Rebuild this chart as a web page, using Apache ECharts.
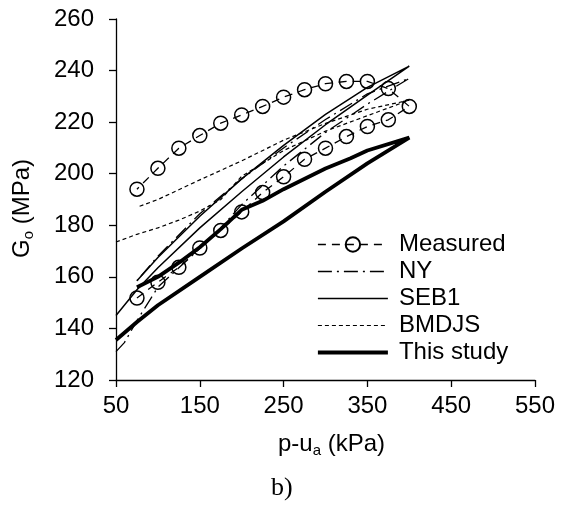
<!DOCTYPE html>
<html><head><meta charset="utf-8">
<script src="https://cdn.jsdelivr.net/npm/echarts@6/dist/echarts.min.js"></script>
<style>html,body{margin:0;padding:0;background:#fff}#c{width:561px;height:509px}</style>
</head><body><div id="c"></div>
<script>
// Axis ticks
const xTicks = [50, 150, 250, 350, 450, 550];
const yTicks = [120, 140, 160, 180, 200, 220, 240, 260];

// Measured: loading branch then unloading branch
const measuredX = [75,100,125,150,175,200,225,250,275,300,325,350,375,400,375,350,325,300,275,250,225,200,175,150,125,100,75];
const measuredY = [151.8,157.9,163.7,171.2,178,185.2,192.7,198.8,205.6,209.9,214.4,218.3,220.9,226.1,233,235.8,235.8,234.9,232.6,229.7,226.1,222.8,219.6,214.8,209.9,202.1,194];

// NY model
const nyX = [50,60,75,100,125,150,175,200,250,300,350,400,350,300,250,200,150,100,75];
const nyY = [131,134.5,143,156,163.5,171,179,188,203,216,227,237,231,221,210,198,184.5,168,158.5];

// SEB1 model
const sebX = [50,75,100,150,200,250,300,350,400,350,300,250,200,150,100,75];
const sebY = [145,155,163.5,179,193,206.5,219,230.5,241.7,233.5,223,211,198,183.5,167.5,158.5];

// BMDJS model
const bmX = [50,75,100,125,150,175,200,250,300,350,400,350,300,250,200,150,100,75];
const bmY = [173.5,176.5,179,182,185.5,190,199,209,216.5,222.5,228.5,225,219.5,213,205,197.6,190,187];

// This study
const tsX = [50,75,100,150,200,250,300,350,400,350,330,300,250,225,200,175,150,125,100,75];
const tsY = [135.5,142.5,149,160,171,181.5,193,204,214,209,206,202,194,189.5,186,178.5,171.5,165.5,160,156];

const legendNames = ['Measured', 'NY', 'SEB1', 'BMDJS', 'This study'];

const zip = (xs, ys) => xs.map((x, i) => [x, ys[i]]);
const FONT = 'Liberation Sans, Arial, sans-serif';

const chart = echarts.init(document.getElementById('c'));
chart.setOption({
  animation: false,
  backgroundColor: '#fff',
  grid: { left: 116, right: 26, top: 19, bottom: 129 },
  title: {
    text: 'b)', left: 266, top: 470,
    textStyle: { fontFamily: 'Liberation Serif, Times New Roman, serif', fontSize: 26, fontWeight: 'normal', color: '#000' }
  },
  legend: {
    orient: 'vertical', left: 311, top: 226, itemWidth: 70, itemHeight: 18, itemGap: 0,
    data: [
      { name: legendNames[0], lineStyle: { width: 1.3 } },
      { name: legendNames[1], itemStyle: { opacity: 0 }, lineStyle: { width: 1.3 } },
      { name: legendNames[2], itemStyle: { opacity: 0 }, lineStyle: { width: 1.5 } },
      { name: legendNames[3], itemStyle: { opacity: 0 }, lineStyle: { width: 1.2 } },
      { name: legendNames[4], itemStyle: { opacity: 0 }, lineStyle: { width: 3.8 } }
    ],
    textStyle: { fontFamily: FONT, fontSize: 24, color: '#000', lineHeight: 27, padding: [0,0,0,6] }
  },
  xAxis: {
    type: 'value', min: xTicks[0], max: xTicks[xTicks.length - 1], interval: xTicks[1] - xTicks[0],
    splitLine: { show: false },
    axisLine: { lineStyle: { color: '#000', width: 1.3 } },
    axisTick: { show: true, length: 7, lineStyle: { color: '#000', width: 1.3 } },
    axisLabel: { color: '#000', fontFamily: FONT, fontSize: 24, margin: 14 },
    name: '{g|p-u}{s|a}{g| (kPa)}', nameLocation: 'middle', nameGap: 50,
    nameTextStyle: { padding: [0, 0, 0, 12], rich: {
      g: { fontFamily: FONT, fontSize: 24, color: '#000', lineHeight: 28 },
      s: { fontFamily: FONT, fontSize: 15, color: '#000', lineHeight: 15, verticalAlign: 'bottom' }
    } }
  },
  yAxis: {
    type: 'value', min: yTicks[0], max: yTicks[yTicks.length - 1], interval: yTicks[1] - yTicks[0],
    splitLine: { show: false },
    axisLine: { show: true, lineStyle: { color: '#000', width: 1.3 } },
    axisTick: { show: true, length: 7, lineStyle: { color: '#000', width: 1.3 } },
    axisLabel: { color: '#000', fontFamily: FONT, fontSize: 24, margin: 22 },
    name: '{g|G}{s|o}{g| (MPa)}', nameLocation: 'middle', nameGap: 80, nameRotate: 90,
    nameTextStyle: { padding: [0, 18, 0, 0], rich: {
      g: { fontFamily: FONT, fontSize: 24, color: '#000', lineHeight: 28 },
      s: { fontFamily: FONT, fontSize: 15, color: '#000', lineHeight: 15, verticalAlign: 'bottom' }
    } }
  },
  series: [
    { name: 'Measured', type: 'line', data: zip(measuredX, measuredY),
      symbol: 'circle', symbolSize: 14,
      itemStyle: { color: 'rgba(0,0,0,0)', borderColor: '#000', borderWidth: 1.5 },
      lineStyle: { color: '#000', width: 1.3, type: [8, 6] }, z: 5 },
    { name: 'NY', type: 'line', data: zip(nyX, nyY), showSymbol: false, symbol: 'none',
      itemStyle: { color: '#000' },
      lineStyle: { color: '#000', width: 1.3, type: [14, 5, 2, 5] } },
    { name: 'SEB1', type: 'line', data: zip(sebX, sebY), showSymbol: false, symbol: 'none',
      itemStyle: { color: '#000' },
      lineStyle: { color: '#000', width: 1.5, type: 'solid' } },
    { name: 'BMDJS', type: 'line', data: zip(bmX, bmY), showSymbol: false, symbol: 'none',
      itemStyle: { color: '#000' },
      lineStyle: { color: '#000', width: 1.2, type: [4, 3] } },
    { name: 'This study', type: 'line', data: zip(tsX, tsY), showSymbol: false, symbol: 'none',
      itemStyle: { color: '#000' },
      lineStyle: { color: '#000', width: 3.8, type: 'solid' } }
  ]
});
</script>
</body></html>
